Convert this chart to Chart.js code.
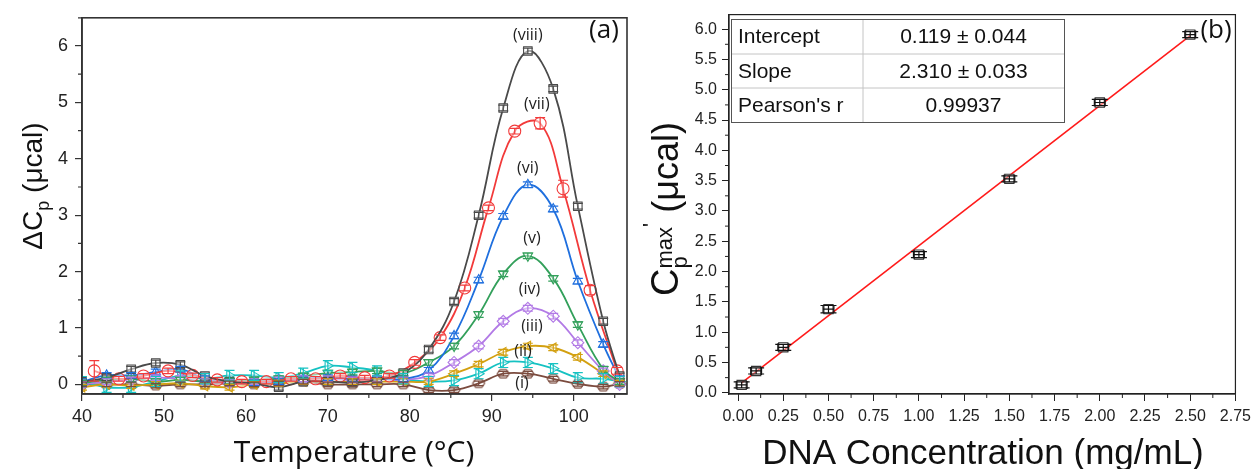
<!DOCTYPE html>
<html>
<head>
<meta charset="utf-8">
<script src="https://cdn.jsdelivr.net/npm/chart.js@4.4.1/dist/chart.umd.min.js"></script>
<style>
  html, body { margin: 0; padding: 0; background: #fff; }
  #wrap { position: relative; width: 1257px; height: 469px; overflow: hidden; }
  #left { position: absolute; left: 0; top: 0; }
  #right { position: absolute; left: 640px; top: 0; }
</style>
</head>
<body>
<div id="wrap">
  <canvas id="left" width="640" height="469"></canvas>
  <canvas id="right" width="617" height="469"></canvas>
</div>
<script>
// ---- panel (a): DSC traces ----
const temps = [40, 43, 46, 49, 52, 55, 58, 61, 64, 67, 70, 73, 76, 79.2, 82.3, 85.4, 88.4, 91.4, 94.4, 97.5, 100.5, 103.6, 105.6];
const tempsRed = [41.5, 44.5, 47.5, 50.5, 53.5, 56.5, 59.5, 62.5, 65.5, 68.5, 71.5, 74.5, 77.5, 80.6, 83.7, 86.7, 89.6, 92.8, 95.9, 98.7, 102, 105.3];

const cp1 = [0.0, 0.0, 0.0, -0.02, 0.0, 0.0, 0.02, 0.0, 0.02, 0.05, 0.0, 0.0, 0.0, 0.0, -0.1, -0.1, 0.02, 0.19, 0.19, 0.1, 0.01, -0.04, 0.01];
const cp2 = [0.05, -0.05, -0.05, 0.05, 0.15, 0.1, 0.16, 0.16, 0.12, 0.2, 0.33, 0.3, 0.24, 0.1, 0.05, 0.07, 0.19, 0.39, 0.39, 0.28, 0.12, 0.1, 0.05];
const cp3 = [-0.05, 0.0, -0.02, 0.0, 0.02, -0.03, -0.05, 0.0, 0.02, 0.05, 0.05, 0.05, 0.05, 0.05, 0.05, 0.19, 0.36, 0.57, 0.68, 0.65, 0.48, 0.19, 0.02];
const cp4 = [0.0, 0.05, 0.08, 0.12, 0.1, 0.05, 0.03, 0.05, 0.08, 0.1, 0.1, 0.08, 0.1, 0.08, 0.15, 0.39, 0.68, 1.12, 1.35, 1.21, 0.74, 0.24, 0.0];
const cp5 = [0.02, 0.08, 0.1, 0.05, 0.08, 0.05, 0.06, 0.08, 0.1, 0.15, 0.2, 0.22, 0.24, 0.2, 0.39, 0.68, 1.24, 1.96, 2.28, 1.88, 1.06, 0.27, 0.05];
const cp6 = [0.05, 0.16, 0.16, 0.22, 0.27, 0.1, 0.05, 0.03, 0.05, 0.1, 0.12, 0.1, 0.1, 0.1, 0.25, 0.86, 1.85, 2.98, 3.54, 3.11, 1.83, 0.71, 0.1];
const cp7 = [0.24, 0.1, 0.15, 0.24, 0.16, 0.08, 0.05, 0.05, 0.1, 0.1, 0.15, 0.12, 0.15, 0.39, 0.83, 1.71, 3.13, 4.49, 4.63, 3.47, 1.67, 0.24];
const cp8 = [0.05, 0.12, 0.27, 0.38, 0.35, 0.15, 0.05, 0.02, -0.05, 0.05, 0.05, 0.03, 0.08, 0.2, 0.62, 1.47, 3.0, 4.9, 5.91, 5.24, 3.16, 1.12, 0.15];

// error bars (typical per trace, red one read point by point)
const err7 = [0.18, 0.04, 0.04, 0.05, 0.04, 0.04, 0.04, 0.04, 0.04, 0.04, 0.04, 0.04, 0.04, 0.05, 0.05, 0.05, 0.05, 0.05, 0.1, 0.15, 0.08, 0.06];
const errTypical = [0.04, 0.09, 0.05, 0.05, 0.05, 0.05, 0.05, 0.05];

const seriesNames = ['(i)', '(ii)', '(iii)', '(iv)', '(v)', '(vi)', '(vii)', '(viii)'];
const labelT = [93.7, 93.8, 94.9, 94.6, 94.9, 94.4, 95.5, 94.4];
const labelV = [0.02, 0.59, 1.03, 1.68, 2.59, 3.83, 4.97, 6.19];

// ---- panel (b): peak heat capacity vs concentration ----
const dnaConc = [0.02, 0.1, 0.25, 0.5, 1.0, 1.5, 2.0, 2.5];
const cpMax = [0.13, 0.36, 0.75, 1.38, 2.28, 3.53, 4.79, 5.91];
const cpMaxErr = [0.05, 0.05, 0.05, 0.06, 0.05, 0.05, 0.05, 0.05];
const concErr = [0.03, 0.03, 0.03, 0.03, 0.03, 0.03, 0.03, 0.03];
const fitX = [0.02, 2.5];
const fitY = [0.165, 5.894];
const tableLabels = ['Intercept', 'Slope', "Pearson's r"];
const tableValues = ['0.119 \u00b1 0.044', '2.310 \u00b1 0.033', '0.99937'];

const colors = ['#7b4b3e', '#16c2c2', '#d3a010', '#b27ae6', '#33a05b', '#1f6fde', '#f23a3a', '#4a4a4a'];

function hexagon(color, r) {
  const c = document.createElement('canvas');
  c.width = c.height = 2 * r + 4;
  const g = c.getContext('2d');
  g.strokeStyle = color;
  g.lineWidth = 1.2;
  g.beginPath();
  for (let k = 0; k < 6; k++) {
    const a = Math.PI / 3 * k;
    const px = r + 2 + r * Math.cos(a), py = r + 2 + r * 0.8 * Math.sin(a);
    if (k) g.lineTo(px, py); else g.moveTo(px, py);
  }
  g.closePath();
  g.stroke();
  return c;
}

const markers = [
  {style: hexagon(colors[0], 6), rot: 0, r: 6},
  {style: 'triangle', rot: 90, r: 5.5},
  {style: 'triangle', rot: 270, r: 5.5},
  {style: 'rectRot', rot: 0, r: 6},
  {style: 'triangle', rot: 180, r: 5.5},
  {style: 'triangle', rot: 0, r: 5.5},
  {style: 'circle', rot: 0, r: 6},
  {style: 'rect', rot: 0, r: 6}
];
const yValues = [cp1, cp2, cp3, cp4, cp5, cp6, cp7, cp8];

function xy(xs, ys) { return ys.map((v, i) => ({x: xs[i], y: v})); }

const leftDatasets = yValues.map((ys, i) => ({
  label: seriesNames[i],
  data: xy(i === 6 ? tempsRed : temps, ys),
  borderColor: colors[i],
  backgroundColor: 'rgba(255,255,255,0.5)',
  borderWidth: 1.8,
  pointStyle: markers[i].style,
  pointRotation: markers[i].rot,
  pointRadius: markers[i].r,
  pointBorderWidth: 1.1,
  tension: 0.4,
  yErr: i === 6 ? err7 : errTypical[i],
  capHalf: 5
})).reverse();

Chart.defaults.font.family = '"Liberation Sans", Arial, sans-serif';
Chart.defaults.color = '#222';

const errorBars = {
  id: 'errorBars',
  afterDatasetsDraw(chart) {
    const {ctx, chartArea: a, scales: {x, y}} = chart;
    ctx.save();
    ctx.beginPath();
    ctx.rect(a.left, a.top, a.right - a.left, a.bottom - a.top);
    ctx.clip();
    chart.data.datasets.forEach((ds, i) => {
      if (ds.yErr === undefined) return;
      const meta = chart.getDatasetMeta(i);
      ctx.strokeStyle = ds.errColor || ds.borderColor;
      ctx.lineWidth = 1.2;
      meta.data.forEach((pt, j) => {
        const d = ds.data[j];
        const e = Array.isArray(ds.yErr) ? ds.yErr[j] : ds.yErr;
        const top = y.getPixelForValue(d.y + e), bot = y.getPixelForValue(d.y - e);
        const c = ds.capHalf;
        ctx.beginPath();
        ctx.moveTo(pt.x, top); ctx.lineTo(pt.x, bot);
        ctx.moveTo(pt.x - c, top); ctx.lineTo(pt.x + c, top);
        ctx.moveTo(pt.x - c, bot); ctx.lineTo(pt.x + c, bot);
        if (ds.xErr) {
          const l = x.getPixelForValue(d.x - ds.xErr[j]), r = x.getPixelForValue(d.x + ds.xErr[j]);
          ctx.moveTo(l, pt.y); ctx.lineTo(r, pt.y);
          ctx.moveTo(l, pt.y - 4); ctx.lineTo(l, pt.y + 4);
          ctx.moveTo(r, pt.y - 4); ctx.lineTo(r, pt.y + 4);
        }
        ctx.stroke();
      });
    });
    ctx.restore();
  }
};

function drawMinor(ctx, scale, len, vertical) {
  const t = scale.ticks.map(k => k.value);
  const step = t[1] - t[0];
  const vals = [t[0] - step / 2].concat(t.map(v => v + step / 2));
  ctx.beginPath();
  vals.filter(v => v >= scale.min - 1e-9 && v <= scale.max + 1e-9).forEach(v => {
    const p = scale.getPixelForValue(v);
    if (vertical) { ctx.moveTo(scale.right, p); ctx.lineTo(scale.right - len, p); }
    else { ctx.moveTo(p, scale.top); ctx.lineTo(p, scale.top + len); }
  });
  ctx.stroke();
}

function drawRuns(ctx, runs, x, y, rotate) {
  ctx.save();
  ctx.translate(x, y);
  if (rotate) ctx.rotate(-Math.PI / 2);
  ctx.textBaseline = 'alphabetic';
  ctx.textAlign = 'left';
  ctx.fillStyle = '#111';
  let total = 0;
  runs.forEach(r => {
    ctx.font = r.font;
    r.w = r.adv !== undefined ? r.adv : ctx.measureText(r.text).width;
    total += r.w;
  });
  let cx = -total / 2;
  runs.forEach(r => {
    ctx.font = r.font;
    ctx.fillText(r.text, cx, r.dy || 0);
    cx += r.w;
  });
  ctx.restore();
}

function frame(ctx, a, color, width) {
  ctx.strokeStyle = color;
  ctx.lineWidth = width;
  ctx.strokeRect(a.left, a.top, a.right - a.left, a.bottom - a.top);
}

const leftDecor = {
  id: 'leftDecor',
  afterDraw(chart) {
    const {ctx, chartArea: a, scales: {x, y}} = chart;
    ctx.save();
    frame(ctx, a, '#333', 1.6);
    ctx.lineWidth = 1.2;
    drawMinor(ctx, x, 4, false);
    drawMinor(ctx, y, 4, true);
    ctx.fillStyle = '#222';
    ctx.font = '16px "Open Sans", sans-serif';
    ctx.textAlign = 'center';
    ctx.textBaseline = 'middle';
    seriesNames.forEach((n, i) => ctx.fillText(n, x.getPixelForValue(labelT[i]), y.getPixelForValue(labelV[i])));
    ctx.fillStyle = '#111';
    ctx.font = '26px "Open Sans", sans-serif';
    ctx.fillText('(a)', 604, 31);
    ctx.textBaseline = 'alphabetic';
    ctx.font = '30px "Open Sans", sans-serif';
    ctx.fillText('Temperature (\u00b0C)', 354, 462);
    ctx.restore();
    drawRuns(ctx, [
      {text: '\u0394C', font: '28px "Liberation Sans", Arial'},
      {text: 'p', font: '18px "Liberation Sans", Arial', dy: 7},
      {text: ' (\u03bccal)', font: '28px "Liberation Sans", Arial'}
    ], 42, 186, true);
  }
};

new Chart(document.getElementById('left'), {
  type: 'line',
  data: {datasets: leftDatasets},
  options: {
    responsive: false,
    animation: false,
    layout: {padding: {left: 0, right: 13, top: 13, bottom: 0}},
    plugins: {legend: {display: false}, tooltip: {enabled: false}},
    scales: {
      x: {
        type: 'linear', min: 40, max: 106.5,
        afterFit(s) { s.height = 75; },
        ticks: {stepSize: 10, includeBounds: false, autoSkip: false, maxRotation: 0, padding: 5, font: {size: 18}, color: '#222'},
        grid: {drawOnChartArea: false, tickLength: 7, color: '#333', lineWidth: 1.2},
        border: {color: '#333', width: 1.6}
      },
      y: {
        type: 'linear', min: -0.17, max: 6.5,
        afterFit(s) { s.width = 82; },
        ticks: {stepSize: 1, includeBounds: false, padding: 7, font: {size: 18}, color: '#222'},
        grid: {drawOnChartArea: false, tickLength: 7, color: '#333', lineWidth: 1.2},
        border: {color: '#333', width: 1.6}
      }
    }
  },
  plugins: [errorBars, leftDecor]
});

const rightDecor = {
  id: 'rightDecor',
  afterDraw(chart) {
    const {ctx, chartArea: a, scales: {x, y}} = chart;
    ctx.save();
    frame(ctx, a, '#222', 1.2);
    ctx.lineWidth = 1;
    drawMinor(ctx, x, 4, false);
    drawMinor(ctx, y, 4, true);
    // fit table
    const tl = 91, tr = 424, col = 223, rows = [19, 54, 88, 122];
    ctx.fillStyle = '#fff';
    ctx.fillRect(tl, rows[0], tr - tl, rows[3] - rows[0]);
    ctx.strokeStyle = '#c4c4c4';
    ctx.lineWidth = 1;
    ctx.beginPath();
    ctx.moveTo(col, rows[0]); ctx.lineTo(col, rows[3]);
    ctx.moveTo(tl, rows[1]); ctx.lineTo(tr, rows[1]);
    ctx.moveTo(tl, rows[2]); ctx.lineTo(tr, rows[2]);
    ctx.stroke();
    ctx.strokeStyle = '#555';
    ctx.strokeRect(tl + 0.5, rows[0] + 0.5, tr - tl, rows[3] - rows[0]);
    ctx.fillStyle = '#111';
    ctx.font = '21px "Liberation Sans", Arial';
    ctx.textBaseline = 'middle';
    tableLabels.forEach((t, i) => {
      const cy = (rows[i] + rows[i + 1]) / 2 + 1;
      ctx.textAlign = 'left';
      ctx.fillText(t, 98, cy);
      ctx.textAlign = 'center';
      ctx.fillText(tableValues[i], (col + tr) / 2, cy);
    });
    ctx.font = '26px "Open Sans", sans-serif';
    ctx.textAlign = 'center';
    ctx.fillText('(b)', 576, 31);
    ctx.textBaseline = 'alphabetic';
    ctx.font = '35px "Liberation Sans", Arial';
    ctx.fillText('DNA Concentration (mg/mL)', 343, 464);
    ctx.restore();
    drawRuns(ctx, [
      {text: 'C', font: '38px "Liberation Sans", Arial'},
      {text: 'p', font: '22px "Liberation Sans", Arial', dy: 9, adv: 0},
      {text: 'max', font: '22px "Liberation Sans", Arial', dy: -6},
      {text: "'", font: '22px "Liberation Sans", Arial', dy: -20},
      {text: ' (\u03bccal)', font: '36px "Liberation Sans", Arial'}
    ], 38, 209, true);
  }
};

new Chart(document.getElementById('right'), {
  type: 'scatter',
  data: {
    datasets: [
      {
        label: 'Cp max',
        data: xy(dnaConc, cpMax),
        borderColor: '#333',
        backgroundColor: 'rgba(255,255,255,0.4)',
        pointStyle: 'rect',
        pointRadius: 6.5,
        pointBorderWidth: 1.2,
        yErr: cpMaxErr,
        xErr: concErr,
        errColor: '#111',
        capHalf: 8
      },
      {
        label: 'Linear fit',
        data: xy(fitX, fitY),
        showLine: true,
        borderColor: '#ff1a1a',
        borderWidth: 1.6,
        pointRadius: 0
      }
    ]
  },
  options: {
    responsive: false,
    animation: false,
    layout: {padding: {left: 0, right: 18, top: 10, bottom: 0}},
    plugins: {legend: {display: false}, tooltip: {enabled: false}},
    scales: {
      x: {
        type: 'linear', min: -0.05, max: 2.75,
        afterFit(s) { s.height = 75; },
        ticks: {stepSize: 0.25, includeBounds: false, autoSkip: false, maxRotation: 0, padding: 6, font: {size: 16}, color: '#222',
          callback: v => v.toFixed(2)},
        grid: {drawOnChartArea: false, tickLength: 7, color: '#222', lineWidth: 1},
        border: {color: '#222', width: 1.2}
      },
      y: {
        type: 'linear', min: -0.02, max: 6.24,
        afterFit(s) { s.width = 89; },
        ticks: {stepSize: 0.5, includeBounds: false, autoSkip: false, padding: 5, font: {size: 16}, color: '#222',
          callback: v => v.toFixed(1)},
        grid: {drawOnChartArea: false, tickLength: 7, color: '#222', lineWidth: 1},
        border: {color: '#222', width: 1.2}
      }
    }
  },
  plugins: [errorBars, rightDecor]
});
</script>
</body>
</html>
